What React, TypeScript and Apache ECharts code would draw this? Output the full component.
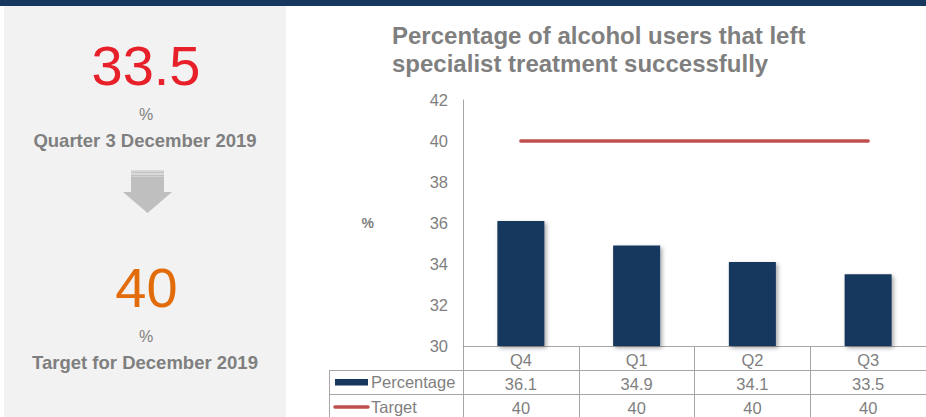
import React, { useEffect, useRef } from "react";
import * as echarts from "echarts";

const quarters = ["Q4", "Q1", "Q2", "Q3"];
const percentage = [36.1, 34.9, 34.1, 33.5];
const target = [40, 40, 40, 40];
const yMin = 30;
const yMax = 42;
const yStep = 2;
const titleLines = ["Percentage of alcohol users that left", "specialist treatment successfully"];
const currentLabel = "Quarter 3 December 2019";
const targetLabel = "Target for December 2019";
const seriesNames = ["Percentage", "Target"];

const FONT = "'Liberation Sans', Arial, sans-serif";
const NAVY = "#17375E";
const RED = "#C0504D";
const GREY_TEXT = "#7F7F7F";
const LINE_GREY = "#A6A6A6";

export default function App() {
  const ref = useRef<HTMLDivElement>(null);

  useEffect(() => {
    document.body.style.margin = "0";
    if (!ref.current) return;
    const chart = echarts.init(ref.current, undefined, { renderer: "svg" });

    const headline = String(percentage[percentage.length - 1]);
    const targetVal = String(target[target.length - 1]);

    const option: any = {
      animation: false,
      backgroundColor: "#ffffff",
      textStyle: { fontFamily: FONT },
      title: {
        text: titleLines.join("\n"),
        left: 392,
        top: 21,
        padding: 0,
        textStyle: {
          fontFamily: FONT,
          fontSize: 24,
          fontWeight: "bold",
          color: GREY_TEXT,
          lineHeight: 28,
        },
      },
      grid: { left: 463, top: 100, width: 468, height: 246, containLabel: false },
      xAxis: [
        {
          type: "category",
          data: quarters,
          position: "bottom",
          boundaryGap: true,
          axisLine: { show: true, lineStyle: { color: LINE_GREY, width: 1 } },
          axisTick: {
            show: true,
            interval: 0,
            length: 71,
            alignWithLabel: false,
            lineStyle: { color: LINE_GREY, width: 1 },
          },
          axisLabel: { color: GREY_TEXT, fontSize: 16.5, margin: 5, fontFamily: FONT, interval: 0 },
          splitLine: { show: false },
        },
        {
          type: "category",
          data: quarters,
          position: "bottom",
          offset: 24,
          axisLine: { show: false },
          axisTick: { show: false },
          axisLabel: {
            color: GREY_TEXT,
            fontSize: 16.5,
            margin: 5,
            fontFamily: FONT,
            interval: 0,
            formatter: (_v: string, i: number) => String(percentage[i]),
          },
        },
        {
          type: "category",
          data: quarters,
          position: "bottom",
          offset: 48,
          axisLine: { show: false },
          axisTick: { show: false },
          axisLabel: {
            color: GREY_TEXT,
            fontSize: 16.5,
            margin: 5,
            fontFamily: FONT,
            interval: 0,
            formatter: (_v: string, i: number) => String(target[i]),
          },
        },
      ],
      yAxis: {
        type: "value",
        min: yMin,
        max: yMax,
        interval: yStep,
        axisLine: { show: true, lineStyle: { color: LINE_GREY, width: 1 } },
        axisTick: { show: false },
        splitLine: { show: false },
        axisLabel: { color: GREY_TEXT, fontSize: 16.5, margin: 15, fontFamily: FONT },
        name: "%",
        nameLocation: "middle",
        nameGap: 89,
        nameRotate: 0,
        nameTextStyle: { color: GREY_TEXT, fontSize: 14, fontWeight: "bold", fontFamily: FONT },
      },
      series: [
        {
          name: seriesNames[0],
          type: "bar",
          xAxisIndex: 0,
          data: percentage,
          barWidth: 47,
          itemStyle: {
            color: NAVY,
            shadowColor: "rgba(0,0,0,0.35)",
            shadowBlur: 4,
            shadowOffsetX: 2,
            shadowOffsetY: 2,
          },
        },
        {
          name: seriesNames[1],
          type: "line",
          xAxisIndex: 0,
          data: target,
          symbol: "none",
          z: 5,
          lineStyle: {
            color: RED,
            width: 3.5,
            cap: "round",
          },
          itemStyle: { color: RED },
        },
      ],
      graphic: [
        { type: "rect", shape: { x: 0, y: 0, width: 926, height: 6 }, style: { fill: NAVY }, z: 0 },
        { type: "rect", shape: { x: 4, y: 6, width: 282, height: 411 }, style: { fill: "#F2F2F2" }, z: 0 },
        {
          type: "text",
          x: 146,
          y: 65,
          style: {
            text: headline,
            fill: "#E8202A",
            fontSize: 56,
            fontFamily: FONT,
            textAlign: "center",
            textVerticalAlign: "middle",
          },
        },
        {
          type: "text",
          x: 146,
          y: 114,
          style: { text: "%", fill: GREY_TEXT, fontSize: 16, fontFamily: FONT, textAlign: "center", textVerticalAlign: "middle" },
        },
        {
          type: "text",
          x: 145,
          y: 140,
          style: {
            text: currentLabel,
            fill: GREY_TEXT,
            fontSize: 18.5,
            fontWeight: "bold",
            fontFamily: FONT,
            textAlign: "center",
            textVerticalAlign: "middle",
          },
        },
        // arrow
        { type: "rect", shape: { x: 131, y: 170, width: 33, height: 22 }, style: { fill: "#BFBFBF" } },
        { type: "rect", shape: { x: 131, y: 170, width: 33, height: 1.7 }, style: { fill: "#DADADA" } },
        { type: "rect", shape: { x: 131, y: 172.7, width: 33, height: 2.3 }, style: { fill: "#DADADA" } },
        { type: "rect", shape: { x: 131, y: 176, width: 33, height: 1 }, style: { fill: "#D0D0D0" } },
        {
          type: "polygon",
          shape: { points: [[123, 192], [172, 192], [147.5, 213]] },
          style: { fill: "#BFBFBF" },
        },
        {
          type: "text",
          x: 146.5,
          y: 287,
          style: {
            text: targetVal,
            fill: "#E36C0A",
            fontSize: 56,
            fontFamily: FONT,
            textAlign: "center",
            textVerticalAlign: "middle",
          },
        },
        {
          type: "text",
          x: 146,
          y: 336,
          style: { text: "%", fill: GREY_TEXT, fontSize: 16, fontFamily: FONT, textAlign: "center", textVerticalAlign: "middle" },
        },
        {
          type: "text",
          x: 145,
          y: 362,
          style: {
            text: targetLabel,
            fill: GREY_TEXT,
            fontSize: 18.5,
            fontWeight: "bold",
            fontFamily: FONT,
            textAlign: "center",
            textVerticalAlign: "middle",
          },
        },
        // data table lines
        { type: "line", shape: { x1: 329, y1: 370.5, x2: 926, y2: 370.5 }, style: { stroke: LINE_GREY, lineWidth: 1 } },
        { type: "line", shape: { x1: 329, y1: 394.5, x2: 926, y2: 394.5 }, style: { stroke: LINE_GREY, lineWidth: 1 } },
        { type: "line", shape: { x1: 329.5, y1: 370, x2: 329.5, y2: 417 }, style: { stroke: LINE_GREY, lineWidth: 1 } },
        // table legend keys
        { type: "rect", shape: { x: 335, y: 379, width: 33, height: 6.5 }, style: { fill: NAVY } },
        {
          type: "line",
          shape: { x1: 335, y1: 407, x2: 368, y2: 407 },
          style: { stroke: RED, lineWidth: 3.5, lineCap: "round" },
        },
        {
          type: "text",
          x: 371,
          y: 382,
          style: { text: seriesNames[0], fill: GREY_TEXT, fontSize: 16.5, fontFamily: FONT, textVerticalAlign: "middle" },
        },
        {
          type: "text",
          x: 371,
          y: 407,
          style: { text: seriesNames[1], fill: GREY_TEXT, fontSize: 16.5, fontFamily: FONT, textVerticalAlign: "middle" },
        },
      ],
    };

    chart.setOption(option);
    return () => chart.dispose();
  }, []);

  return <div ref={ref} style={{ width: 926, height: 417 }} />;
}
